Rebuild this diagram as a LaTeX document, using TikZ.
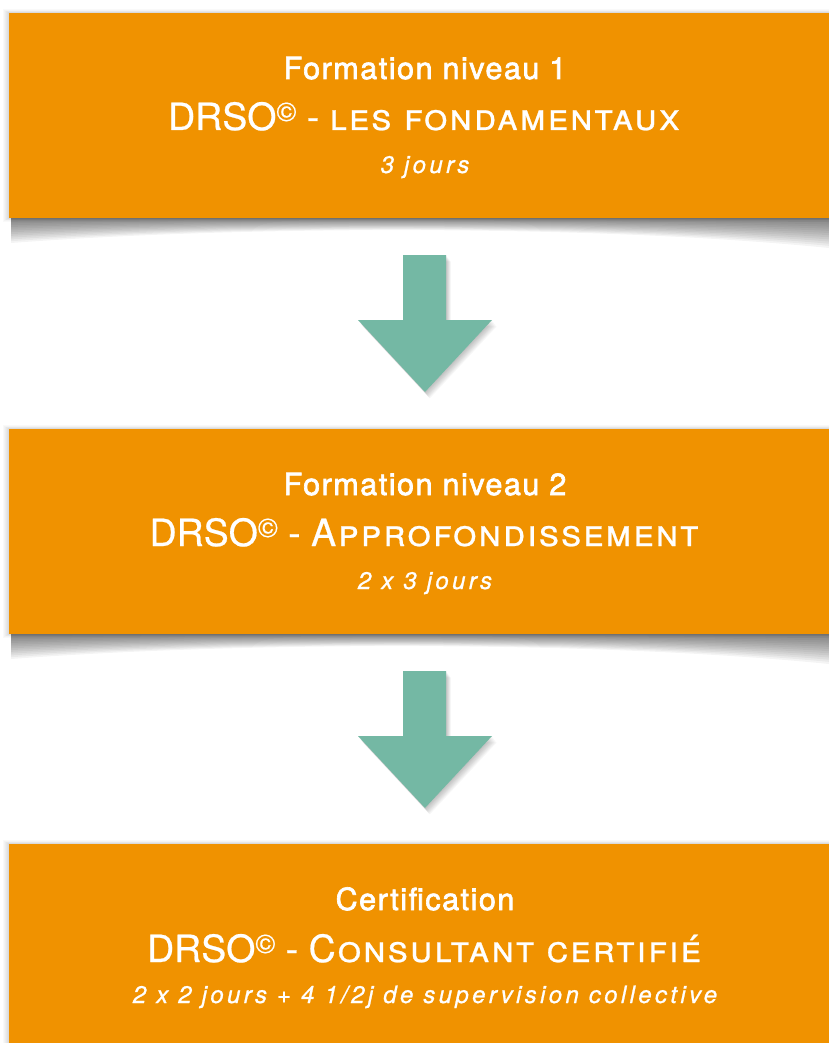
\documentclass[tikz,border=0pt]{standalone}
\usepackage{fontspec}
\setmainfont{TeX Gyre Heros}
\definecolor{orangebox}{RGB}{240,146,0}
\definecolor{tealarrow}{RGB}{116,184,164}
\tikzset{
  obox/.style={fill=orangebox, draw=none, minimum width=832pt, minimum height=205pt, inner sep=0pt, outer sep=0pt},
  tline1/.style={anchor=base, text=white, inner sep=0pt, font=\fontsize{30.5}{30.5}\selectfont\addfontfeature{FakeBold=2.2,LetterSpace=5}},
  tline2/.style={anchor=base, text=white, inner sep=0pt, font=\fontsize{37.5}{37.5}\selectfont\addfontfeature{FakeBold=0.6}},
  tline3/.style={anchor=base, text=white, inner sep=0pt, font=\fontsize{24}{24}\selectfont\itshape\addfontfeature{FakeBold=0.9,LetterSpace=14}},
  arrowfill/.style={fill=tealarrow, draw=none},
}
\newcommand\copysign{\raisebox{9pt}{\fontsize{27}{27}\selectfont\textcopyright}}
\newcommand\sctext[1]{{\addfontfeature{LetterSpace=5.5}#1}}
\newcommand\boxshadow[2]{% top, bottom
  \foreach \k in {1,...,6}{
    \fill[black, opacity=0.025] (9-\k,#1-\k*0.6) rectangle (841,#2+\k*0.6);
  }
  \foreach \k in {1,...,14}{
    \pgfmathsetmacro\f{\k/14}
    \fill[black, opacity=0.045] (11,#2) -- (829,#2) -- (829,#2+30*\f)
      .. controls (600,#2+7*\f) and (250,#2+7*\f) .. (11,#2+25*\f) -- cycle;
  }
}
\newcommand\blockarrow[1]{% y of shaft top
  \foreach \k in {1,...,8}{
    \fill[black, opacity=0.03] (403+\k*0.6,#1+\k*0.8) -- (446+\k*0.6,#1+\k*0.8) -- (446+\k*0.6,#1+65+\k*0.8) -- (492+\k*0.6,#1+65+\k*0.8) -- (425+\k*0.6,#1+137+\k*0.8) -- (358+\k*0.6,#1+65+\k*0.8) -- (403+\k*0.6,#1+65+\k*0.8) -- cycle;
  }
  \fill[arrowfill] (403,#1) -- (446,#1) -- (446,#1+65) -- (492,#1+65) -- (425,#1+137) -- (358,#1+65) -- (403,#1+65) -- cycle;
}
\begin{document}
\begin{tikzpicture}[x=1pt,y=-1pt]
\useasboundingbox (0,0) rectangle (829,1043);
\clip (0,0) rectangle (829,1043);
\fill[white] (0,0) rectangle (829,1043);

% box 1
\boxshadow{13}{218}
\node[obox] (b1) at (425,115.5) {};
\node[tline1] (b1t1) at (425,79) {Formation niveau 1};
\node[tline2] (b1t2) at (425,130) {DRSO\copysign{} - \sctext{\textsc{les fondamentaux}}};
\node[tline3] (b1t3) at (425,173) {3 jours};

% arrow 1
\blockarrow{255}

% box 2
\boxshadow{429}{634}
\node[obox] (b2) at (425,531.5) {};
\node[tline1] (b2t1) at (425,495) {Formation niveau 2};
\node[tline2] (b2t2) at (425,546) {DRSO\copysign{} - \sctext{A\textsc{pprofondissement}}};
\node[tline3] (b2t3) at (425,589) {2 x 3 jours};

% arrow 2
\blockarrow{671}

% box 3
\boxshadow{844}{1049}
\node[obox] (b3) at (425,946.5) {};
\node[tline1] (b3t1) at (425,910) {Certification};
\node[tline2] (b3t2) at (425,962) {DRSO\copysign{} - \sctext{C\textsc{onsultant certifié}}};
\node[tline3] (b3t3) at (425,1003) {2 x 2 jours + 4 1/2j de supervision collective};
\end{tikzpicture}
\end{document}
